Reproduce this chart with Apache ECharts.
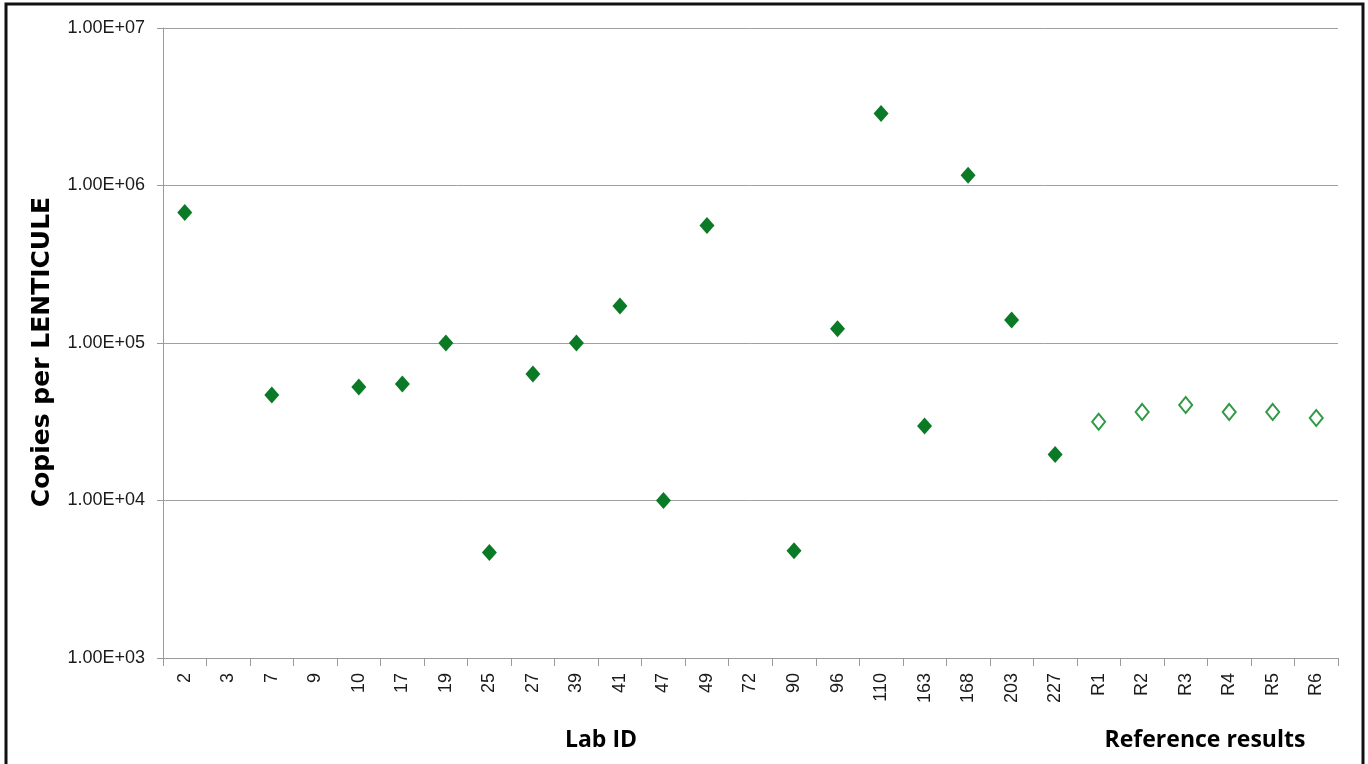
<!DOCTYPE html>
<html>
<head>
<meta charset="utf-8">
<script src="https://cdn.jsdelivr.net/npm/echarts@6/dist/echarts.min.js"></script>
<style>
html,body{margin:0;padding:0;background:#fff;}
#chart{width:1368px;height:764px;}
</style>
</head>
<body>
<div id="chart"></div>
<script>
const categories = ['2','3','7','9','10','17','19','25','27','39','41','47','49','72','90','96','110','163','168','203','227','R1','R2','R3','R4','R5','R6'];
const labValues = [675000,null,46800,null,52600,55000,100000,4680,63600,100000,172000,10000,557000,null,4800,123000,2870000,29700,1160000,140000,19600,null,null,null,null,null,null];
const refValues = [null,null,null,null,null,null,null,null,null,null,null,null,null,null,null,null,null,null,null,null,null,31600,36500,40400,36500,36500,33400];
const yTicks = [1000,10000,100000,1000000,10000000];

function fmt(v){
  const e = Math.round(Math.log10(v));
  return '1.00E+' + (e < 10 ? '0' + e : e);
}

const chart = echarts.init(document.getElementById('chart'));
chart.setOption({
  animation:false,
  backgroundColor:'#fff',
  grid:{left:163,right:30,top:28,bottom:106,containLabel:false},
  xAxis:{
    type:'category',
    data:categories,
    boundaryGap:true,
    axisLine:{lineStyle:{color:'#9a9a9a',width:1}},
    axisTick:{show:true,length:8,lineStyle:{color:'#9a9a9a'},alignWithLabel:false},
    axisLabel:{rotate:90,color:'#1a1a1a',fontFamily:'Liberation Sans',fontSize:18,margin:15,interval:0}
  },
  yAxis:{
    type:'log',
    logBase:10,
    min:yTicks[0],
    max:yTicks[yTicks.length-1],
    axisLine:{show:true,lineStyle:{color:'#9a9a9a',width:1}},
    axisTick:{show:true,length:6,lineStyle:{color:'#9a9a9a'}},
    splitLine:{show:true,lineStyle:{color:'#a0a0a0',width:1}},
    axisLabel:{formatter:fmt,color:'#1a1a1a',fontFamily:'Liberation Sans',fontSize:18,margin:18}
  },
  series:[
    {
      type:'scatter',
      data:labValues,
      symbol:'diamond',
      symbolSize:[15,17],
      itemStyle:{color:'#0b7a27',opacity:1}
    },
    {
      type:'scatter',
      data:refValues,
      symbol:'diamond',
      symbolSize:[13,16],
      itemStyle:{color:'#fff',borderColor:'#2e9a44',borderWidth:2,opacity:1}
    }
  ],
  graphic:[
    {type:'rect',shape:{x:6,y:4,width:1357,height:780},style:{fill:'none',stroke:'#111',lineWidth:3}},
    {type:'text',x:42,y:352,rotation:Math.PI/2,style:{text:'Copies per LENTICULE',font:'bold 25px "DejaVu Sans"',fill:'#000',textAlign:'center',textVerticalAlign:'middle'}},
    {type:'text',x:601,y:740,style:{text:'Lab ID',font:'bold 23px "Open Sans"',fill:'#000',textAlign:'center',textVerticalAlign:'middle'}},
    {type:'text',x:1205,y:740,style:{text:'Reference results',font:'bold 23px "Open Sans"',fill:'#000',textAlign:'center',textVerticalAlign:'middle'}}
  ]
});
</script>
</body>
</html>
